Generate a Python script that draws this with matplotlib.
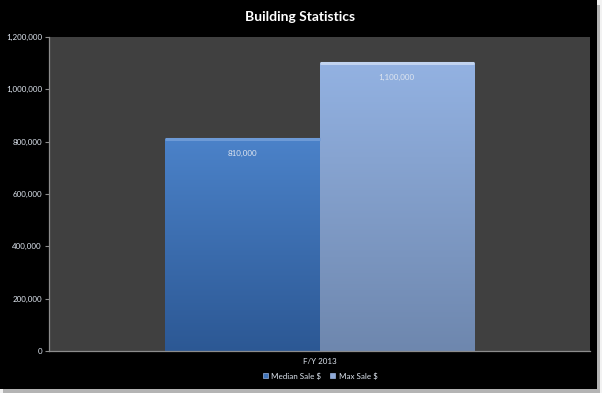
import matplotlib
matplotlib.use('Agg')
import matplotlib.pyplot as plt
import matplotlib.patches as mpatches
import numpy as np
from matplotlib.colors import LinearSegmentedColormap

categories = ['F/Y 2013']
series_names = ['Median Sale $', 'Max Sale $']
series_values = [810000, 1100000]
yticks = [0, 200000, 400000, 600000, 800000, 1000000, 1200000]
title = 'Building Statistics'

# top / bottom colours of each bar gradient
grad_colors = [('#4b82c9', '#2c5894'), ('#93b2e2', '#6e87ae')]
edge_colors = ['#6d9ad6', '#c2d4f0']
legend_colors = ['#3f74ba', '#8ea9d8']
txt = '#dfe6f0'

W, H = 602, 393
fig = plt.figure(figsize=(W / 100, H / 100), dpi=100)
fig.patch.set_facecolor('#f2f2f2')
plt.rcParams['font.family'] = ['Lato', 'DejaVu Sans']

# screenshot frame: black chart area with a soft grey shadow
fig.patches.append(mpatches.Rectangle((3 / W, 0), 597 / W, (393 - 5) / H, transform=fig.transFigure,
                                      facecolor='#b4b4b4', edgecolor='none', zorder=-10))
fig.patches.append(mpatches.Rectangle((0, 4 / H), 597 / W, 389 / H, transform=fig.transFigure,
                                      facecolor='#000000', edgecolor='none', zorder=-9))

ax = fig.add_axes([49 / W, (393 - 351) / H, (590 - 49) / W, (351 - 37) / H])
ax.set_facecolor('#404040')

bw = 0.285
x = np.arange(len(categories))
bars = []
for i, (name, val) in enumerate(zip(series_names, series_values)):
    b = ax.bar(x + (i - 0.5) * bw, [val], width=bw, facecolor='none', edgecolor='none',
               label=name, zorder=2)
    bars.append(b)

for i, b in enumerate(bars):
    cmap = LinearSegmentedColormap.from_list('g%d' % i, [grad_colors[i][1], grad_colors[i][0]])
    for r in b.patches:
        x0, y0 = r.get_x(), r.get_y()
        w, h = r.get_width(), r.get_height()
        grad = np.linspace(0, 1, 256).reshape(-1, 1)
        im = ax.imshow(grad, extent=(x0, x0 + w, y0, y0 + h), origin='lower', cmap=cmap,
                       aspect='auto', zorder=2)
        im.set_clip_path(r)
        ax.plot([x0, x0 + w], [y0 + h, y0 + h], color=edge_colors[i], lw=2.2, zorder=3,
                solid_capstyle='butt')
        ax.text(x0 + w / 2, y0 + h - 0.045 * 1200000, f'{series_values[i]:,}', ha='center',
                va='center', color=txt, fontsize=5.8, zorder=4)

ax.set_xlim(-0.5, 0.5)
ax.set_ylim(0, 1200000)
ax.set_yticks(yticks)
ax.set_yticklabels([f'{v:,}' for v in yticks])
ax.set_xticks(x)
ax.set_xticklabels(categories)
ax.tick_params(axis='y', colors='#8c8c8c', labelcolor=txt, labelsize=5.8, length=3, width=0.8, pad=2)
ax.tick_params(axis='x', length=0, labelcolor=txt, labelsize=5.8, pad=5)
for s in ['top', 'right']:
    ax.spines[s].set_visible(False)
for s in ['left', 'bottom']:
    ax.spines[s].set_color('#8c8c8c')
    ax.spines[s].set_linewidth(0.9)

fig.text(300 / W, 1 - 17 / H, title, ha='center', va='center', color='#ffffff',
         fontsize=10, fontweight='bold')

handles = [mpatches.Patch(facecolor=c, edgecolor='#9ab4de', lw=0.5) for c in legend_colors]
leg = fig.legend(handles, series_names, loc='center', bbox_to_anchor=(320 / W, 1 - 376 / H),
                 ncol=2, frameon=False, fontsize=5.8, handlelength=0.6, handleheight=0.6,
                 handletextpad=0.4, columnspacing=1.2, labelcolor=txt)

fig.savefig('out.png', dpi=100, facecolor=fig.get_facecolor())
